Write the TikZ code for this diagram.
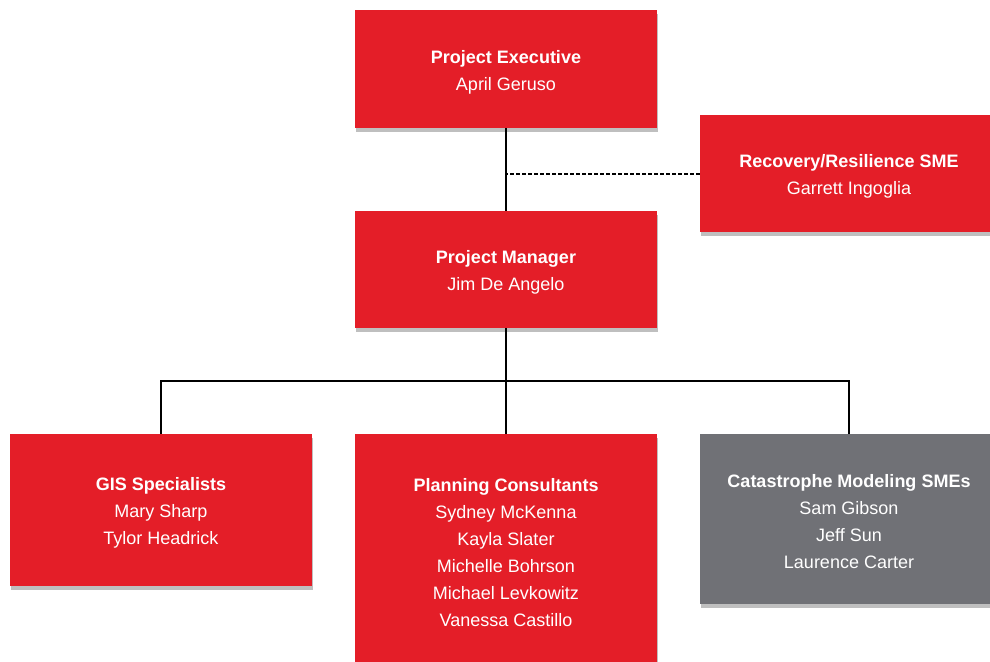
\documentclass[tikz,border=0pt]{standalone}
\usepackage{fontspec}
\setmainfont{Liberation Sans}
\usetikzlibrary{shadows}
\definecolor{boxred}{RGB}{228,30,40}
\definecolor{boxgray}{RGB}{112,113,118}
\begin{document}
\begin{tikzpicture}[x=1pt,y=-1pt,
  orgbox/.style={rectangle, fill=boxred, draw=none, text=white, align=center,
    font=\fontsize{18}{27}\selectfont, inner sep=0pt,
    drop shadow={shadow xshift=1pt, shadow yshift=-4pt, opacity=0.25, fill=black}},
  graybox/.style={orgbox, fill=boxgray},
  link/.style={draw=black, line width=2pt},
  dashlink/.style={draw=black, line width=2pt, dash pattern=on 4pt off 2pt}]
\useasboundingbox (0,0) rectangle (990,661);
\clip (0,0) rectangle (990,661);
\node[orgbox, minimum width=302pt, minimum height=118pt] (pe) at (506,69)
  {\rule{0pt}{19pt}\textbf{Project Executive}\\April Geruso};
\node[orgbox, minimum width=298pt, minimum height=117pt] (rec) at (849,173.5)
  {\rule{0pt}{19pt}\textbf{Recovery/Resilience SME}\\Garrett Ingoglia};
\node[orgbox, minimum width=302pt, minimum height=117pt] (pm) at (506,269.5)
  {\rule{0pt}{19pt}\textbf{Project Manager}\\Jim De Angelo};
\node[orgbox, minimum width=302pt, minimum height=152pt] (gis) at (161,510)
  {\rule{0pt}{19pt}\textbf{GIS Specialists}\\Mary Sharp\\Tylor Headrick};
\node[orgbox, minimum width=302pt, minimum height=232pt] (plan) at (506,550)
  {\rule{0pt}{19pt}\textbf{Planning Consultants}\\Sydney McKenna\\Kayla Slater\\Michelle Bohrson\\Michael Levkowitz\\Vanessa Castillo};
\node[graybox, minimum width=298pt, minimum height=170pt] (cat) at (849,519)
  {\rule{0pt}{19pt}\textbf{Catastrophe Modeling SMEs}\\Sam Gibson\\Jeff Sun\\Laurence Carter};
\coordinate (bus) at (506,381);
\draw[link] (pe.south) -- (pm.north);
\draw[dashlink] (rec.west) -- (rec.west -| pe.south);
\draw[link] (pm.south) -- (bus);
\draw[link] (gis.north) |- (bus) -| (cat.north);
\draw[link] (plan.north) -- (bus);
\end{tikzpicture}
\end{document}
